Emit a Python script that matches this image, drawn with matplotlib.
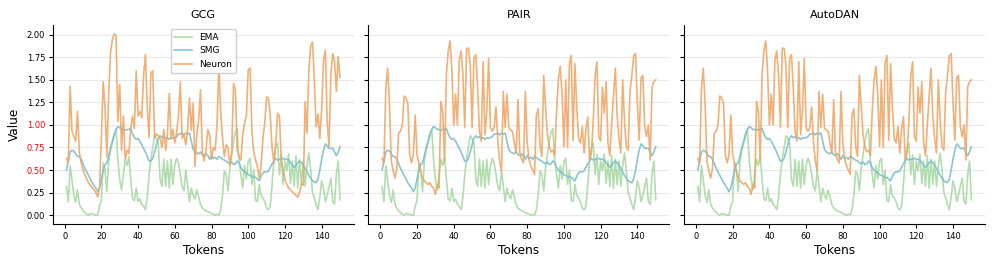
import matplotlib
matplotlib.use('Agg')
import matplotlib.pyplot as plt
import numpy as np

# token positions
tokens = list(range(1, 151))

# EMA and SMG are the same in all three panels
ema = [0.32, 0.15, 0.55, 0.38, 0.22, 0.14, 0.28, 0.12, 0.08, 0.05,
       0.03, 0.01, 0.00, 0.02, 0.01, 0.01, 0.00, 0.00, 0.10, 0.16,
       0.58, 0.50, 0.26, 0.60, 0.72, 0.80, 0.88, 0.95, 0.62, 0.40,
       0.28, 0.45, 0.62, 0.55, 0.65, 0.40, 0.18, 0.16, 0.30, 0.15,
       0.18, 0.12, 0.10, 0.06, 0.20, 0.45, 0.62, 0.75, 0.88, 0.85,
       0.80, 0.40, 0.32, 0.62, 0.32, 0.60, 0.30, 0.62, 0.34, 0.55,
       0.63, 0.58, 0.45, 0.32, 0.27, 0.50, 0.33, 0.15, 0.30, 0.22,
       0.18, 0.28, 0.20, 0.12, 0.08, 0.06, 0.05, 0.04, 0.03, 0.02,
       0.01, 0.00, 0.01, 0.00, 0.06, 0.22, 0.49, 0.45, 0.27, 0.52,
       0.67, 0.82, 0.92, 0.96, 0.60, 0.45, 0.30, 0.55, 0.40, 0.60,
       0.63, 0.34, 0.50, 0.16, 0.15, 0.34, 0.22, 0.19, 0.15, 0.08,
       0.06, 0.10, 0.34, 0.62, 0.75, 0.80, 0.45, 0.67, 0.34, 0.60,
       0.49, 0.68, 0.35, 0.60, 0.32, 0.66, 0.30, 0.62, 0.34, 0.60,
       0.32, 0.55, 0.69, 0.50, 0.25, 0.19, 0.12, 0.06, 0.20, 0.38,
       0.30, 0.15, 0.22, 0.32, 0.41, 0.15, 0.12, 0.45, 0.60, 0.17]

smg = [0.50, 0.60, 0.70, 0.72, 0.71, 0.68, 0.65, 0.65, 0.62, 0.57,
       0.52, 0.48, 0.44, 0.40, 0.36, 0.33, 0.30, 0.26, 0.30, 0.40,
       0.50, 0.56, 0.58, 0.66, 0.75, 0.82, 0.90, 0.95, 0.98, 0.97,
       0.95, 0.95, 0.94, 0.95, 0.95, 0.96, 0.90, 0.86, 0.84, 0.85,
       0.82, 0.78, 0.74, 0.70, 0.65, 0.60, 0.60, 0.63, 0.70, 0.78,
       0.85, 0.88, 0.86, 0.87, 0.85, 0.86, 0.84, 0.86, 0.85, 0.86,
       0.87, 0.90, 0.90, 0.91, 0.89, 0.91, 0.90, 0.91, 0.82, 0.73,
       0.70, 0.69, 0.68, 0.70, 0.67, 0.66, 0.68, 0.66, 0.62, 0.66,
       0.63, 0.64, 0.62, 0.65, 0.64, 0.62, 0.61, 0.60, 0.58, 0.57,
       0.59, 0.56, 0.57, 0.60, 0.58, 0.53, 0.50, 0.48, 0.47, 0.45,
       0.44, 0.43, 0.42, 0.42, 0.40, 0.38, 0.43, 0.47, 0.48, 0.48,
       0.49, 0.53, 0.57, 0.60, 0.63, 0.61, 0.62, 0.62, 0.63, 0.62,
       0.62, 0.61, 0.58, 0.56, 0.53, 0.55, 0.58, 0.60, 0.58, 0.55,
       0.52, 0.48, 0.44, 0.41, 0.38, 0.37, 0.36, 0.40, 0.50, 0.62,
       0.72, 0.79, 0.77, 0.74, 0.74, 0.74, 0.70, 0.66, 0.70, 0.76]

neuron_gcg = [0.63, 0.58, 1.43, 0.93, 0.87, 0.82, 1.15, 0.70, 0.58, 0.50,
              0.45, 0.40, 0.36, 0.33, 0.31, 0.28, 0.25, 0.20, 0.30, 0.85,
              1.48, 1.19, 0.65, 1.35, 1.80, 1.95, 2.01, 1.99, 1.04, 1.45,
              0.72, 1.10, 0.62, 0.72, 0.68, 0.97, 1.10, 0.96, 1.60, 1.10,
              1.15, 1.08, 1.55, 1.78, 1.20, 0.86, 1.58, 1.60, 0.86, 0.90,
              0.88, 0.85, 0.75, 0.95, 0.72, 0.90, 1.35, 0.85, 0.95, 0.80,
              0.92, 1.10, 1.48, 0.85, 0.90, 0.78, 0.95, 1.30, 0.94, 1.24,
              0.54, 0.90, 1.05, 1.39, 0.70, 0.60, 0.72, 0.95, 0.88, 0.62,
              0.75, 0.72, 1.00, 1.68, 1.15, 0.85, 0.65, 0.78, 0.75, 0.55,
              0.70, 1.46, 1.39, 0.72, 0.65, 0.61, 0.90, 1.02, 1.10, 1.61,
              1.63, 0.94, 0.70, 0.61, 0.54, 0.41, 0.55, 0.85, 1.02, 1.31,
              1.30, 1.10, 0.75, 0.58, 0.80, 1.13, 1.10, 0.60, 0.50, 0.40,
              0.34, 0.30, 0.28, 0.26, 0.24, 0.22, 0.20, 0.26, 0.35, 0.33,
              1.26, 0.91, 1.60, 1.87, 1.92, 1.50, 0.98, 1.12, 0.85, 1.17,
              1.72, 1.83, 1.04, 0.76, 1.55, 1.79, 1.70, 1.37, 1.76, 1.53]

# PAIR and AutoDAN share the same neuron trace
neuron_pair = [0.63, 0.58, 1.41, 1.63, 1.22, 0.60, 0.49, 0.41, 0.52, 0.91,
               0.93, 1.00, 1.32, 1.30, 1.24, 0.67, 0.58, 0.67, 1.11, 0.67,
               0.58, 0.48, 0.42, 0.38, 0.36, 0.34, 0.36, 0.32, 0.30, 0.23,
               0.34, 0.30, 1.26, 1.15, 0.60, 1.56, 1.82, 1.93, 1.60, 1.00,
               1.34, 1.00, 1.72, 1.82, 1.56, 0.97, 1.85, 1.85, 1.67, 0.97,
               1.74, 1.78, 1.41, 0.93, 0.82, 1.70, 0.89, 1.15, 1.74, 0.97,
               0.93, 0.97, 1.20, 0.82, 0.60, 0.49, 1.37, 0.97, 1.34, 0.97,
               0.94, 0.93, 0.80, 0.69, 1.28, 0.69, 0.62, 0.58, 1.37, 0.80,
               0.62, 0.55, 0.50, 0.45, 1.11, 1.18, 0.76, 0.65, 1.55, 1.20,
               0.90, 0.76, 0.70, 0.72, 0.66, 1.15, 1.50, 1.65, 1.34, 0.76,
               1.50, 0.75, 1.68, 1.77, 0.83, 1.68, 1.20, 0.85, 0.80, 0.98,
               0.69, 0.95, 1.09, 0.61, 0.69, 1.05, 1.54, 1.70, 0.87, 0.82,
               1.42, 1.13, 1.48, 0.80, 0.66, 1.00, 1.31, 1.63, 1.10, 0.85,
               0.69, 1.50, 1.05, 0.76, 0.72, 1.37, 1.55, 1.77, 1.79, 1.25,
               0.83, 1.52, 1.55, 0.98, 0.87, 1.00, 0.61, 1.42, 1.48, 1.50]

titles = ['GCG', 'PAIR', 'AutoDAN']
neurons = [neuron_gcg, neuron_pair, neuron_pair]
red_ticks = ['0.50', '0.75', '1.00']

c_ema = '#9fd59a'
c_smg = '#7fbfcc'
c_neuron = '#eea35f'

fig, axes = plt.subplots(1, 3, figsize=(9.96, 2.66), dpi=100, sharey=True)
fig.subplots_adjust(left=0.053, right=0.989, bottom=0.157, top=0.907, wspace=0.049)

for ax, title, neuron in zip(axes, titles, neurons):
    ax.plot(tokens, ema, color=c_ema, lw=1.2, alpha=0.8, label='EMA')
    ax.plot(tokens, smg, color=c_smg, lw=1.2, alpha=0.9, label='SMG')
    ax.plot(tokens, neuron, color=c_neuron, lw=1.2, alpha=0.85, label='Neuron')
    ax.set_title(title, fontsize=8, pad=5)
    ax.set_xlabel('Tokens', fontsize=8.7, labelpad=2)
    ax.set_xticks(np.arange(0, 141, 20))
    ax.set_yticks(np.arange(0, 2.01, 0.25))
    ax.grid(axis='y', color='#e8e8e8', lw=0.8)
    ax.set_axisbelow(True)
    ax.spines['top'].set_visible(False)
    ax.spines['right'].set_visible(False)
    ax.tick_params(labelsize=6, length=3, pad=2.5)

axes[0].set_ylabel('Value', fontsize=8.7, labelpad=4)
axes[0].yaxis.set_major_formatter(matplotlib.ticker.FormatStrFormatter('%.2f'))
fig.canvas.draw()
for lbl in axes[0].get_yticklabels():
    if lbl.get_text() in red_ticks:
        lbl.set_color('red')

axes[0].legend(loc='upper center', fontsize=6.5, framealpha=0.9)

fig.savefig('out.png', dpi=100)
